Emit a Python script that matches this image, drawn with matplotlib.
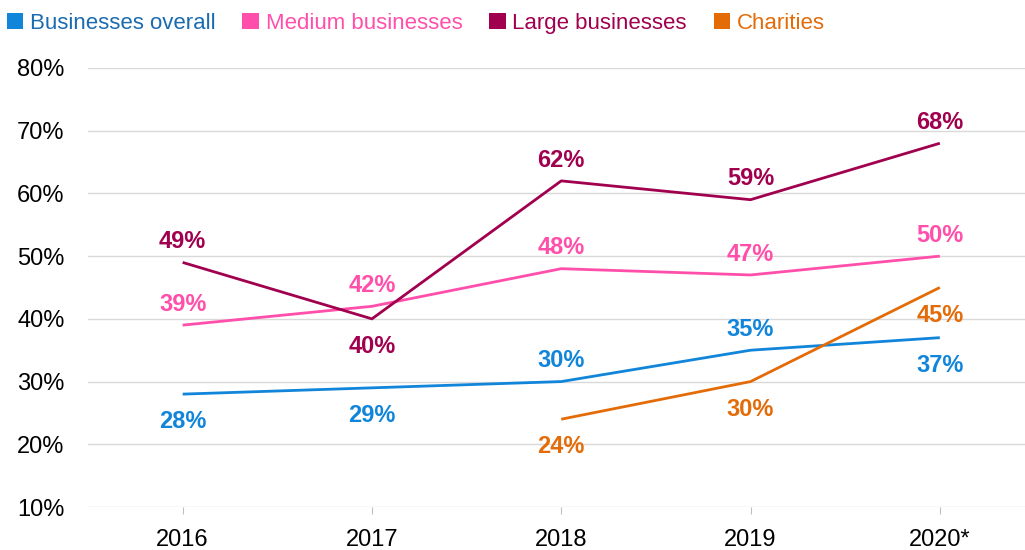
import matplotlib.pyplot as plt
from matplotlib.patches import Patch

plt.rcParams['font.family'] = ['Liberation Sans', 'DejaVu Sans']

years = ['2016', '2017', '2018', '2019', '2020*']
overall = [28, 29, 30, 35, 37]
medium = [39, 42, 48, 47, 50]
large = [49, 40, 62, 59, 68]
charities = [None, None, 24, 30, 45]

series_names = ['Businesses overall', 'Medium businesses', 'Large businesses', 'Charities']
colors = ['#1185DA', '#FF4FAB', '#A0004E', '#E36C09']
text_colors = ['#1A6BB0', '#FF4FAB', '#A0004E', '#E36C09']

# label above (+1) or below (-1) each point
overall_pos = [-1, -1, 1, 1, -1]
medium_pos = [1, 1, 1, 1, 1]
large_pos = [1, -1, 1, 1, 1]
charities_pos = [0, 0, -1, -1, -1]

fig = plt.figure(figsize=(10.25, 5.5), dpi=100)
ax = fig.add_axes([88 / 1025, 43 / 550, 1 - 88 / 1025, 439 / 550])

x = list(range(len(years)))
data = [overall, medium, large, charities]
positions = [overall_pos, medium_pos, large_pos, charities_pos]

for vals, pos, c in zip(data, positions, colors):
    xs = [i for i, v in zip(x, vals) if v is not None]
    ys = [v for v in vals if v is not None]
    ax.plot(xs, ys, color=c, lw=2.0, solid_capstyle='butt', zorder=3)
    for i, v in zip(xs, ys):
        off = 15 if pos[i] > 0 else -20
        ax.annotate(f'{v}%', (i, v), xytext=(0, off), textcoords='offset points',
                    ha='center', va='center', fontsize=17, fontweight='bold', color=c)

ax.set_xlim(-0.5, 4.45)
ax.set_ylim(10, 80)
ax.set_yticks(range(10, 81, 10))
ax.set_yticklabels([f'{t}%' for t in range(10, 81, 10)])
ax.set_xticks(x)
ax.set_xticklabels(years)
ax.tick_params(axis='y', length=0, labelsize=17, pad=17)
ax.tick_params(axis='x', length=5, color='#BFBFBF', labelsize=17, pad=11)
ax.grid(axis='y', color='#D9D9D9', lw=1)
ax.set_axisbelow(True)
for s in ax.spines.values():
    s.set_visible(False)

handles = [Patch(facecolor=c, edgecolor='none') for c in colors]
leg = fig.legend(handles, series_names, loc='upper left', bbox_to_anchor=(0.0, 1 - 6 / 550),
                 ncol=4, frameon=False, fontsize=16, handlelength=0.75, handleheight=0.75,
                 handletextpad=0.3, columnspacing=1.2, borderpad=0.3, borderaxespad=0)
for t, c in zip(leg.get_texts(), text_colors):
    t.set_color(c)

fig.savefig('out.png', dpi=100)
